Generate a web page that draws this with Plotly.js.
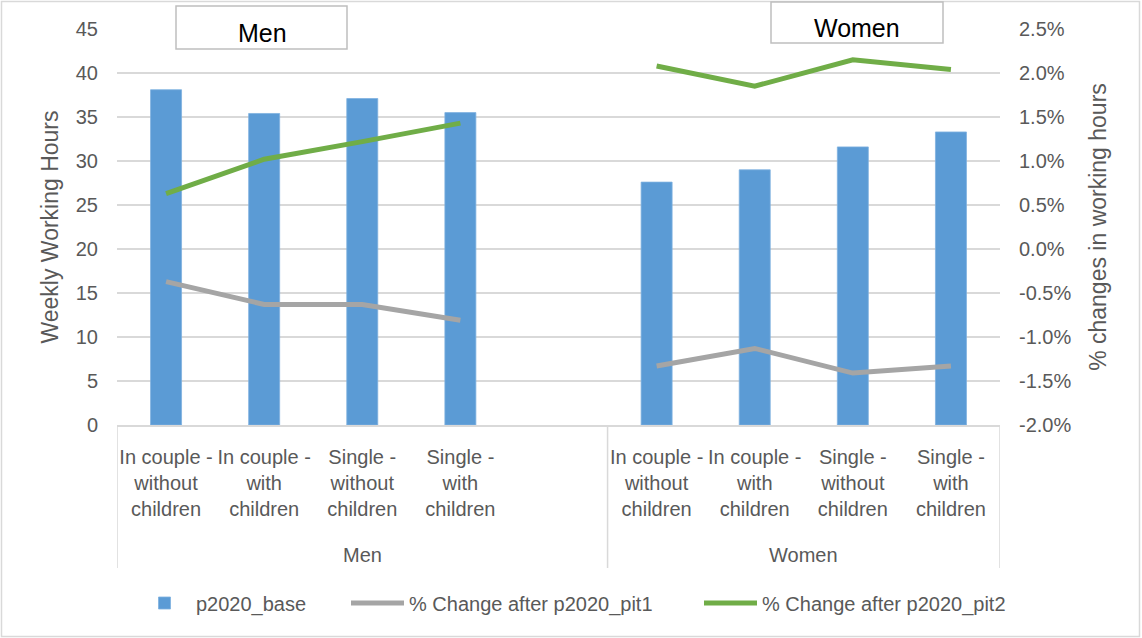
<!DOCTYPE html>
<html>
<head>
<meta charset="utf-8">
<script src="https://cdn.plot.ly/plotly-3.0.1.min.js"></script>
<style>
  html, body { margin: 0; padding: 0; background: #ffffff; }
  #chart { width: 1142px; height: 638px; }
</style>
</head>
<body>
<div id="chart"></div>
<script>
// Household groups and their household types
const groups = ['Men', 'Women'];
const householdTypes = [
  'In couple -<br>without<br>children',
  'In couple -<br>with<br>children',
  'Single -<br>without<br>children',
  'Single -<br>with<br>children'
];

// Weekly working hours in the base scenario
const menBase = [38.1, 35.4, 37.1, 35.5];
const womenBase = [27.6, 29.0, 31.6, 33.3];

// % change in working hours after each reform
const menPit1 = [-0.37, -0.63, -0.63, -0.81];
const womenPit1 = [-1.33, -1.13, -1.41, -1.33];
const menPit2 = [0.63, 1.02, 1.22, 1.43];
const womenPit2 = [2.08, 1.85, 2.15, 2.04];

const seriesNames = ['p2020_base', '% Change after p2020_pit1', '% Change after p2020_pit2'];

// Right-axis ticks (percent), written with a plain hyphen for negatives
const pctTicks = [-2, -1.5, -1, -0.5, 0, 0.5, 1, 1.5, 2, 2.5];
const pctTickText = pctTicks.map(v => v.toFixed(1) + '%');

// Category slots: four men, one empty spacer, four women
const slots = [0, 1, 2, 3, 4, 5, 6, 7, 8];
const join = (a, b) => a.concat([null], b);

const tickVals = [0, 1, 2, 3, 5, 6, 7, 8];
const tickText = householdTypes.concat(householdTypes);

const textGrey = '#595959';
const gridGrey = '#d9d9d9';
const font = 'Liberation Sans, Arial, sans-serif';

// Plot-area geometry (pixels) used to place frame decorations
const W = 1142, H = 638;
const M = { l: 117, r: 142, t: 29, b: 213 };
const plotW = W - M.l - M.r, plotH = H - M.t - M.b;
const px = x => (x - M.l) / plotW;
const py = y => (H - M.b - y) / plotH;

const traces = [
  {
    type: 'bar',
    name: seriesNames[0],
    legend: 'legend',
    x: slots,
    y: join(menBase, womenBase),
    width: 0.316,
    marker: { color: '#5b9bd5', line: { color: '#7fb1e0', width: 0.8 } },
    hoverinfo: 'y'
  },
  {
    type: 'scatter',
    mode: 'lines',
    name: seriesNames[1],
    legend: 'legend2',
    x: slots,
    y: join(menPit1, womenPit1),
    yaxis: 'y2',
    connectgaps: false,
    line: { color: '#a5a5a5', width: 5 }
  },
  {
    type: 'scatter',
    mode: 'lines',
    name: seriesNames[2],
    legend: 'legend3',
    x: slots,
    y: join(menPit2, womenPit2),
    yaxis: 'y2',
    connectgaps: false,
    line: { color: '#70ad47', width: 5 }
  }
];

const frameLine = { color: gridGrey, width: 1.5 };

// One legend box per series, laid out in a single row under the chart
const legendBox = x => ({
  orientation: 'h',
  x: px(x),
  xanchor: 'left',
  y: py(603),
  yanchor: 'middle',
  bgcolor: 'rgba(0,0,0,0)',
  font: { size: 20, color: textGrey },
  itemwidth: 53
});

const layout = {
  width: W,
  height: H,
  margin: M,
  paper_bgcolor: '#ffffff',
  plot_bgcolor: '#ffffff',
  font: { family: font, color: textGrey, size: 20 },
  showlegend: true,
  legend: legendBox(133),
  legend2: legendBox(346),
  legend3: legendBox(699),
  xaxis: {
    range: [-0.5, 8.5],
    tickmode: 'array',
    tickvals: tickVals,
    ticktext: tickText,
    showgrid: false,
    zeroline: false,
    showline: true,
    linecolor: gridGrey,
    linewidth: 1.5,
    ticks: '',
    ticklabelstandoff: 13,
    tickfont: { size: 20, color: textGrey },
    fixedrange: true
  },
  yaxis: {
    range: [0, 45],
    dtick: 5,
    showgrid: true,
    gridcolor: gridGrey,
    gridwidth: 1.3,
    zeroline: false,
    showline: false,
    ticks: '',
    ticklabelstandoff: 18,
    tickfont: { size: 20, color: textGrey },
    title: { text: 'Weekly Working Hours', font: { size: 23, color: textGrey }, standoff: 10 },
    fixedrange: true
  },
  yaxis2: {
    overlaying: 'y',
    side: 'right',
    range: [-2, 2.5],
    tickmode: 'array',
    tickvals: pctTicks,
    ticktext: pctTickText,
    showgrid: false,
    zeroline: false,
    showline: false,
    ticks: '',
    ticklabelstandoff: 18,
    tickfont: { size: 20, color: textGrey },
    title: { text: '% changes in working hours', font: { size: 23, color: textGrey }, standoff: 19 },
    fixedrange: true
  },
  shapes: [
    // outer chart frame
    { type: 'rect', xref: 'paper', yref: 'paper', x0: px(1.5), x1: px(1139.5), y0: py(636.5), y1: py(1.5),
      line: frameLine, fillcolor: 'rgba(0,0,0,0)', layer: 'below' },
    // group dividers under the category axis
    { type: 'line', xref: 'x', yref: 'paper', x0: -0.5, x1: -0.5, y0: 0, y1: py(568), line: frameLine },
    { type: 'line', xref: 'x', yref: 'paper', x0: 4.5, x1: 4.5, y0: 0, y1: py(568), line: frameLine },
    { type: 'line', xref: 'x', yref: 'paper', x0: 8.5, x1: 8.5, y0: 0, y1: py(568), line: frameLine },
    // heading boxes
    { type: 'rect', xref: 'paper', yref: 'paper', x0: px(176), x1: px(347), y0: py(49), y1: py(6),
      line: { color: '#bfbfbf', width: 1.5 }, fillcolor: '#ffffff', layer: 'above' },
    { type: 'rect', xref: 'paper', yref: 'paper', x0: px(771), x1: px(943), y0: py(43), y1: py(2),
      line: { color: '#bfbfbf', width: 1.5 }, fillcolor: '#ffffff', layer: 'above' }
  ],
  annotations: [
    // group labels on the category axis
    { text: groups[0], xref: 'x', yref: 'paper', x: 2, y: py(555), showarrow: false,
      font: { size: 20, color: textGrey }, xanchor: 'center', yanchor: 'middle' },
    { text: groups[1], xref: 'x', yref: 'paper', x: 6.5, y: py(555), showarrow: false,
      font: { size: 20, color: textGrey }, xanchor: 'center', yanchor: 'middle' },
    // headings
    { text: groups[0], xref: 'paper', yref: 'paper', x: px(262), y: py(33), showarrow: false,
      font: { size: 25, color: '#000000' }, xanchor: 'center', yanchor: 'middle' },
    { text: groups[1], xref: 'paper', yref: 'paper', x: px(857), y: py(28), showarrow: false,
      font: { size: 25, color: '#000000' }, xanchor: 'center', yanchor: 'middle' }
  ]
};

Plotly.newPlot('chart', traces, layout, { displayModeBar: false, staticPlot: true });
</script>
</body>
</html>
